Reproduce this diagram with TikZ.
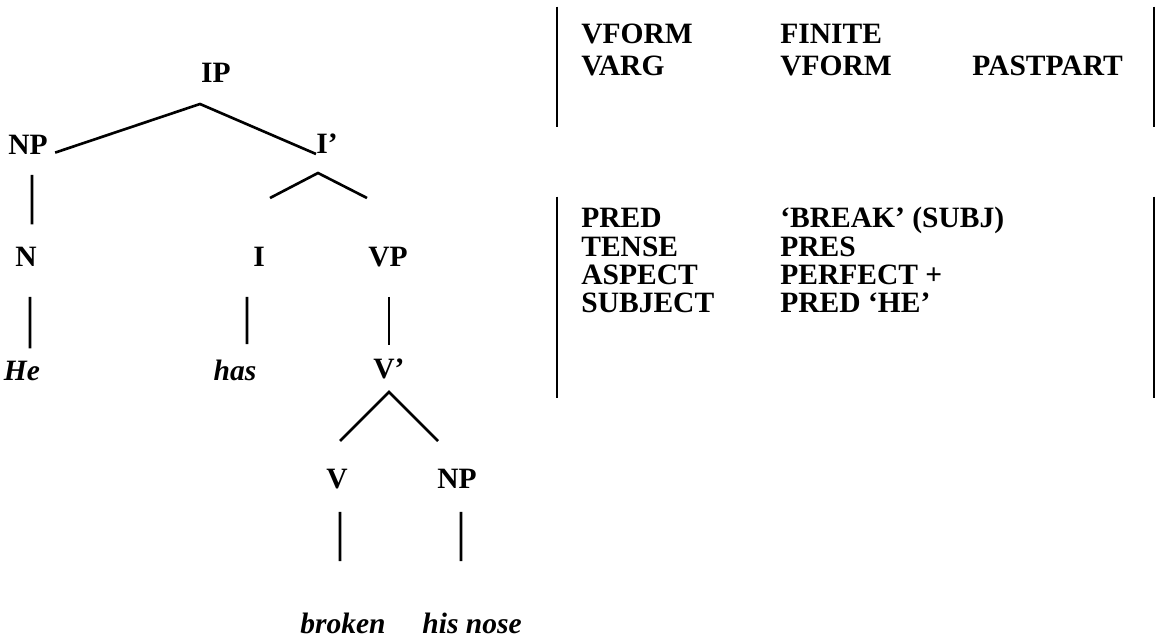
\documentclass[tikz,border=0pt]{standalone}
\usepackage{fontspec}
\setmainfont{Liberation Serif}
\usepackage{tikz}
\usetikzlibrary{positioning, calc}

\newcommand{\labelfont}{\fontsize{16.8}{18}\selectfont\bfseries}

\begin{document}
\begin{tikzpicture}[
    x=0.02cm, y=-0.02cm,
    cat/.style={font=\labelfont, inner sep=0pt, anchor=base},
    word/.style={font=\labelfont\itshape, inner sep=0pt, anchor=base},
    attr/.style={font=\labelfont, inner sep=0pt, anchor=base west},
    fs/.style={rectangle, inner sep=0pt, minimum width=11.94cm},
    branch/.style={line width=1.5pt},
    bar/.style={line width=1.3pt}
]
\useasboundingbox (0,0) rectangle (1155,641);

% Tree nodes
\node[cat] (ip) at (216,83) {IP};
\node[cat] (np) at (28,155) {NP};
\node[cat] (ibar) at (327,154) {I’};
\node[cat] (n) at (26,267) {N};
\node[cat] (i) at (259,267) {I};
\node[cat] (vp) at (388,267) {VP};
\node[word] (he) at (22,380) {He};
\node[word] (has) at (235,380) {has};
\node[cat] (vbar) at (389,378) {V’};
\node[cat] (v) at (337,488) {V};
\node[cat] (np2) at (457,488) {NP};
\node[word] (broken) at (343,633) {broken};
\node[word] (nose) at (472,633) {his nose};

% Branch points
\coordinate (ipj) at (200,104);
\coordinate (ibarj) at (318,173);
\coordinate (ibar-l) at (270,198);
\coordinate (ibar-r) at (367,198);
\coordinate (vbarj) at (389,392);
\coordinate (vbar-l) at (340,441);
\coordinate (vbar-r) at (438,441);

% Branches
\draw[branch, shorten <=0.15cm] (np.base east) -- (ipj) -- (ibar.base west);
\draw[branch] (ibar-l) -- (ibarj) -- (ibar-r);
\draw[branch] (vbar-l) -- (vbarj) -- (vbar-r);
\draw[branch] ([xshift=0.08cm, yshift=-0.4cm] np.base) -- ([xshift=0.12cm, yshift=0.46cm] n.north);
\draw[branch] ([xshift=0.08cm, yshift=-0.6cm] n.base) -- ([xshift=0.16cm, yshift=0.24cm] he.north);
\draw[branch] ([xshift=-0.24cm, yshift=-0.6cm] i.base) -- ([xshift=0.24cm, yshift=0.3cm] has.north);
\draw[branch] ([xshift=0.02cm, yshift=-0.6cm] vp.base) -- ([yshift=0.26cm] vbar.north);
\draw[branch] ([xshift=0.06cm, yshift=-0.48cm] v.base) -- ([xshift=-0.06cm, yshift=1.02cm] broken.north);
\draw[branch] ([xshift=0.08cm, yshift=-0.48cm] np2.base) -- ([xshift=-0.22cm, yshift=1.02cm] nose.north);

% Feature structures
\node[fs, minimum height=2.4cm] (fs1) at (855.5,67) {};
\node[fs, minimum height=4.02cm] (fs2) at (855.5,297.5) {};
\draw[bar] (fs1.north west) -- (fs1.south west);
\draw[bar] (fs1.north east) -- (fs1.south east);
\draw[bar] (fs2.north west) -- (fs2.south west);
\draw[bar] (fs2.north east) -- (fs2.south east);

\node[attr] (vform) at (581,44) {VFORM};
\node[attr] (finite) at (780,44) {FINITE};
\node[attr] (varg) at (581,76) {VARG};
\node[attr] (vform2) at (780,76) {VFORM};
\node[attr] (pastpart) at (972,76) {PASTPART};

\node[attr] (pred) at (581,228) {PRED};
\node[attr] (break) at (780,228) {‘BREAK’ (SUBJ)};
\node[attr] (tense) at (581,257) {TENSE};
\node[attr] (pres) at (780,257) {PRES};
\node[attr] (aspect) at (581,285) {ASPECT};
\node[attr] (perfect) at (780,285) {PERFECT +};
\node[attr] (subject) at (581,313) {SUBJECT};
\node[attr] (predhe) at (780,313) {PRED ‘HE’};

\end{tikzpicture}
\end{document}
